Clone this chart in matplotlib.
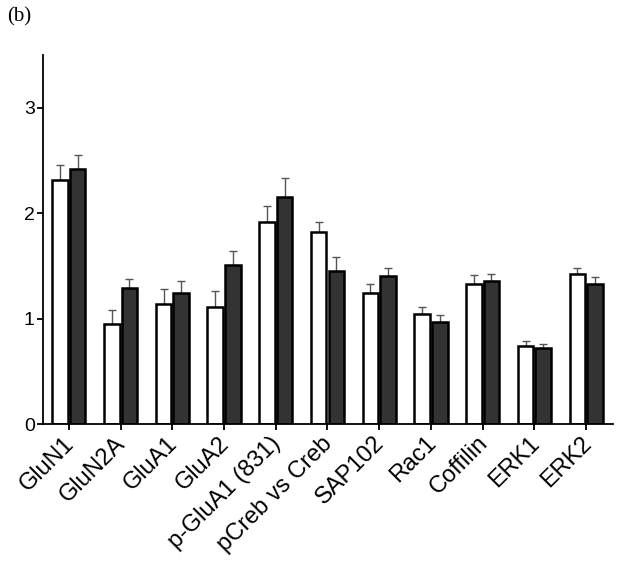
import numpy as np
import matplotlib
matplotlib.use('Agg')
import matplotlib.pyplot as plt
from matplotlib.transforms import ScaledTranslation

plt.rcParams['font.family'] = ['Liberation Sans', 'DejaVu Sans']

categories = ["GluN1", "GluN2A", "GluA1", "GluA2", "p-GluA1 (831)", "pCreb vs Creb",
              "SAP102", "Rac1", "Coffilin", "ERK1", "ERK2"]
white_vals = [2.31, 0.95, 1.14, 1.11, 1.92, 1.82, 1.24, 1.04, 1.33, 0.74, 1.42]
white_err = [0.15, 0.13, 0.14, 0.15, 0.15, 0.10, 0.09, 0.07, 0.08, 0.05, 0.06]
dark_vals = [2.42, 1.29, 1.24, 1.51, 2.15, 1.45, 1.40, 0.965, 1.36, 0.72, 1.33]
dark_err = [0.13, 0.09, 0.12, 0.13, 0.18, 0.13, 0.08, 0.065, 0.06, 0.04, 0.06]
yticks = [0, 1, 2, 3]

fig = plt.figure(figsize=(6.21, 5.61), dpi=100)
ax = fig.add_axes([0.0692, 0.2442, 0.918, 0.6578])

x = np.arange(len(categories))
w = 0.30
off = 0.17
zeros = np.zeros(len(categories))

ax.errorbar(x - off, white_vals, yerr=[zeros, white_err], fmt='none', ecolor='#555555',
            elinewidth=1.0, capsize=3, capthick=1.0, zorder=1)
ax.errorbar(x + off, dark_vals, yerr=[zeros, dark_err], fmt='none', ecolor='#555555',
            elinewidth=1.0, capsize=3, capthick=1.0, zorder=1)
ax.bar(x - off, white_vals, width=w, color='white', edgecolor='black', linewidth=1.8, zorder=2)
ax.bar(x + off, dark_vals, width=w, color='#333333', edgecolor='black', linewidth=1.8, zorder=2)

ax.set_xlim(-0.5, 10.52)
ax.set_ylim(0, 3.5)
ax.set_yticks(yticks)
ax.set_yticklabels([str(t) for t in yticks], fontsize=14)
ax.set_xticks(x)
ax.set_xticklabels([])

# category labels: rotated, anchored a bit left of each tick like the original
lbl_tr = ax.get_xaxis_transform() + ScaledTranslation(-0.06, -0.083, fig.dpi_scale_trans)
for xi, name in zip(x, categories):
    ax.text(xi, 0, name, transform=lbl_tr, rotation=45, ha='right', va='top',
            rotation_mode='anchor', fontsize=17, clip_on=False)

for s in ['top', 'right']:
    ax.spines[s].set_visible(False)
for s in ['left', 'bottom']:
    ax.spines[s].set_linewidth(1.3)
ax.tick_params(axis='both', length=4, width=1.3, pad=2)

fig.text(0.012, 0.97, "(b)", fontsize=15, family='Liberation Serif', va='center', ha='left')

fig.savefig("out.png", dpi=100)
